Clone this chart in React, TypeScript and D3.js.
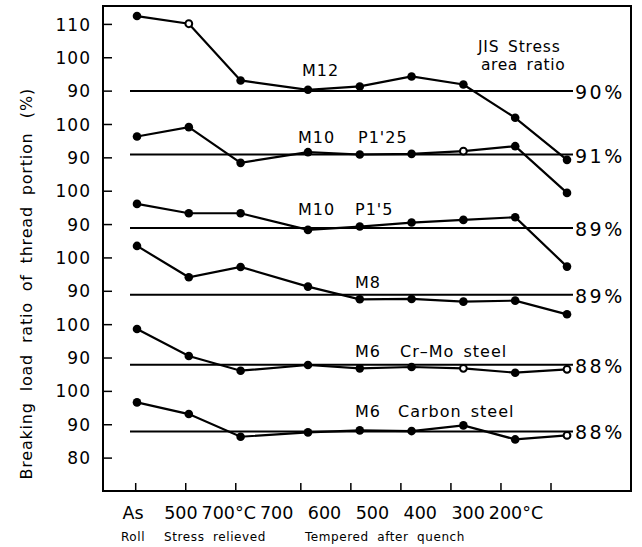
import React, { useEffect, useRef } from "react";
import * as d3 from "d3";

// x categories (treatment temperature)
const categories = ["As", "500", "700°C", "700", "600", "500", "400", "300", "200°C"];
// y tick labels, top to bottom (panels share one stacked axis)
const yTickLabels = ["110", "100", "90", "100", "90", "100", "90", "100", "90", "100", "90", "100", "90", "80"];

const m12 = [112.5, 110.2, 93.2, 90.4, 91.4, 94.4, 92.0, 82.0, 69.4];
const m10p125 = [96.4, 99.2, 88.5, 91.7, 91.0, 91.2, 92.0, 93.5, 79.5];
const m10p15 = [96.2, 93.4, 93.4, 88.4, 89.4, 90.6, 91.4, 92.2, 77.4];
const m8 = [103.6, 94.2, 97.3, 91.4, 87.6, 87.7, 86.9, 87.2, 83.1];
const m6CrMo = [98.7, 90.6, 86.2, 87.9, 86.9, 87.3, 86.9, 85.6, 86.6];
const m6Carbon = [96.7, 93.2, 86.4, 87.7, 88.3, 88.1, 89.8, 85.6, 86.8];

// JIS stress area ratio for each panel
const stressRatios = [90, 91, 89, 89, 88, 88];
// hollow markers (index into categories)
const openPoints = [[1], [6], [], [], [6, 8], [8]];

const panelNames = ["M12", "M10", "M10", "M8", "M6", "M6"];
const panelNotes = ["", "P1'25", "P1'5", "", "Cr–Mo steel", "Carbon steel"];

const App = () => {
  const ref = useRef<SVGSVGElement>(null);

  useEffect(() => {
    const svg = d3.select(ref.current);
    svg.selectAll("*").remove();

    const width = 642;
    const height = 547;
    const frame = { left: 103, right: 631, top: 6, bottom: 491 };
    const font = "DejaVu Sans, sans-serif";

    svg.attr("width", width).attr("height", height);

    const series = [m12, m10p125, m10p15, m8, m6CrMo, m6Carbon];

    // tempered group is pushed a bit to the right
    const gap = 0.3;
    const pos = (i: number) => i + (i >= 3 ? gap : 0);
    const last = categories.length - 1 + gap;

    const xPoint = d3.scaleLinear().domain([0, last]).range([137, 567]);
    const xTick = d3.scaleLinear().domain([0, last]).range([135.7, 551]);
    const xLabel = d3
      .scalePoint<number>()
      .domain(d3.range(categories.length))
      .range([133, 516]);

    const slot = d3.scaleLinear().domain([0, 13]).range([24.4, 458.1]);
    const panelY = (p: number) =>
      d3.scaleLinear().domain([90, 100]).range([slot(2 + 2 * p), slot(1 + 2 * p)]);

    // frame
    svg
      .append("rect")
      .attr("x", frame.left)
      .attr("y", frame.top)
      .attr("width", frame.right - frame.left)
      .attr("height", frame.bottom - frame.top)
      .attr("fill", "none")
      .attr("stroke", "#000")
      .attr("stroke-width", 2);

    // y ticks (inward)
    svg
      .selectAll(".ytick")
      .data(yTickLabels)
      .enter()
      .append("line")
      .attr("x1", frame.left)
      .attr("x2", frame.left + 9)
      .attr("y1", (d, i) => slot(i))
      .attr("y2", (d, i) => slot(i))
      .attr("stroke", "#000")
      .attr("stroke-width", 1.5);

    svg
      .selectAll(".ylab")
      .data(yTickLabels)
      .enter()
      .append("text")
      .attr("x", 91)
      .attr("y", (d, i) => slot(i))
      .attr("dy", "0.36em")
      .attr("text-anchor", "end")
      .attr("font-family", font)
      .attr("font-size", 17)
      .attr("letter-spacing", 1)
      .text((d) => d);

    // x ticks (inward)
    svg
      .selectAll(".xtick")
      .data(categories)
      .enter()
      .append("line")
      .attr("x1", (d, i) => xTick(pos(i)))
      .attr("x2", (d, i) => xTick(pos(i)))
      .attr("y1", frame.bottom)
      .attr("y2", frame.bottom - 8)
      .attr("stroke", "#000")
      .attr("stroke-width", 1.5);

    svg
      .selectAll(".xlab")
      .data(categories)
      .enter()
      .append("text")
      .attr("x", (d, i) => xLabel(i)!)
      .attr("y", 519)
      .attr("text-anchor", "middle")
      .attr("font-family", font)
      .attr("font-size", 17.5)
      .text((d) => d);

    // treatment captions
    const captions: [string, number][] = [
      ["Roll", 133],
      ["Stress relieved", 215],
      ["Tempered after quench", 385],
    ];
    svg
      .selectAll(".cap")
      .data(captions)
      .enter()
      .append("text")
      .attr("x", (d) => d[1])
      .attr("y", 541)
      .attr("text-anchor", "middle")
      .attr("font-family", font)
      .attr("font-size", 12)
      .attr("letter-spacing", 0.6)
      .attr("word-spacing", 4)
      .text((d) => d[0]);

    // y-axis title
    svg
      .append("text")
      .attr("transform", "translate(32,306) rotate(-90)")
      .attr("text-anchor", "middle")
      .attr("font-family", font)
      .attr("font-size", 16)
      .attr("letter-spacing", 0.8)
      .attr("word-spacing", 5)
      .text("Breaking load ratio of thread portion");
    svg
      .append("text")
      .attr("transform", "translate(32,103) rotate(-90)")
      .attr("text-anchor", "middle")
      .attr("font-family", font)
      .attr("font-size", 16)
      .attr("letter-spacing", 1)
      .text("(%)");

    // JIS note
    svg
      .append("text")
      .attr("x", 478)
      .attr("y", 52)
      .attr("font-family", font)
      .attr("font-size", 15.5)
      .attr("letter-spacing", 0.8)
      .attr("word-spacing", 3)
      .text("JIS Stress");
    svg
      .append("text")
      .attr("x", 481)
      .attr("y", 70)
      .attr("font-family", font)
      .attr("font-size", 15.5)
      .attr("letter-spacing", 0.6)
      .attr("word-spacing", 3)
      .text("area ratio");

    const nameX = [302, 298, 298, 355, 355, 355];
    const nameY = [76, 143, 215, 288, 357, 417];
    const noteX = [0, 358, 355, 0, 400, 398];

    const line = d3.line<number>();

    series.forEach((values, p) => {
      const y = panelY(p);
      const g = svg.append("g");

      // reference line at the stress area ratio
      const ry = y(stressRatios[p]);
      g.append("line")
        .attr("x1", xPoint(0) - 7)
        .attr("x2", xPoint(last) + 6)
        .attr("y1", ry)
        .attr("y2", ry)
        .attr("stroke", "#000")
        .attr("stroke-width", 2);

      g.append("text")
        .attr("x", 575)
        .attr("y", ry + 8)
        .attr("font-family", font)
        .attr("font-size", 19)
        .attr("letter-spacing", 2.5)
        .text(`${stressRatios[p]}%`);

      g.append("path")
        .attr(
          "d",
          line
            .x((d, i) => xPoint(pos(i)))
            .y((d) => y(d))(values)
        )
        .attr("fill", "none")
        .attr("stroke", "#000")
        .attr("stroke-width", 2.2);

      g.selectAll("circle")
        .data(values)
        .enter()
        .append("circle")
        .attr("cx", (d, i) => xPoint(pos(i)))
        .attr("cy", (d) => y(d))
        .attr("r", (d, i) => (openPoints[p].includes(i) ? 3.4 : 4.3))
        .attr("fill", (d, i) => (openPoints[p].includes(i) ? "#fff" : "#000"))
        .attr("stroke", "#000")
        .attr("stroke-width", (d, i) => (openPoints[p].includes(i) ? 2 : 0));

      g.append("text")
        .attr("x", nameX[p])
        .attr("y", nameY[p])
        .attr("font-family", font)
        .attr("font-size", 16)
        .attr("letter-spacing", 1)
        .text(panelNames[p]);

      if (panelNotes[p]) {
        g.append("text")
          .attr("x", noteX[p])
          .attr("y", nameY[p])
          .attr("font-family", font)
          .attr("font-size", 16)
          .attr("letter-spacing", 1)
          .attr("word-spacing", 3)
          .text(panelNotes[p]);
      }
    });
  }, []);

  return (
    <svg
      ref={ref}
      style={{ position: "absolute", left: 0, top: 0, display: "block", background: "#fff" }}
    ></svg>
  );
};

export default App;
